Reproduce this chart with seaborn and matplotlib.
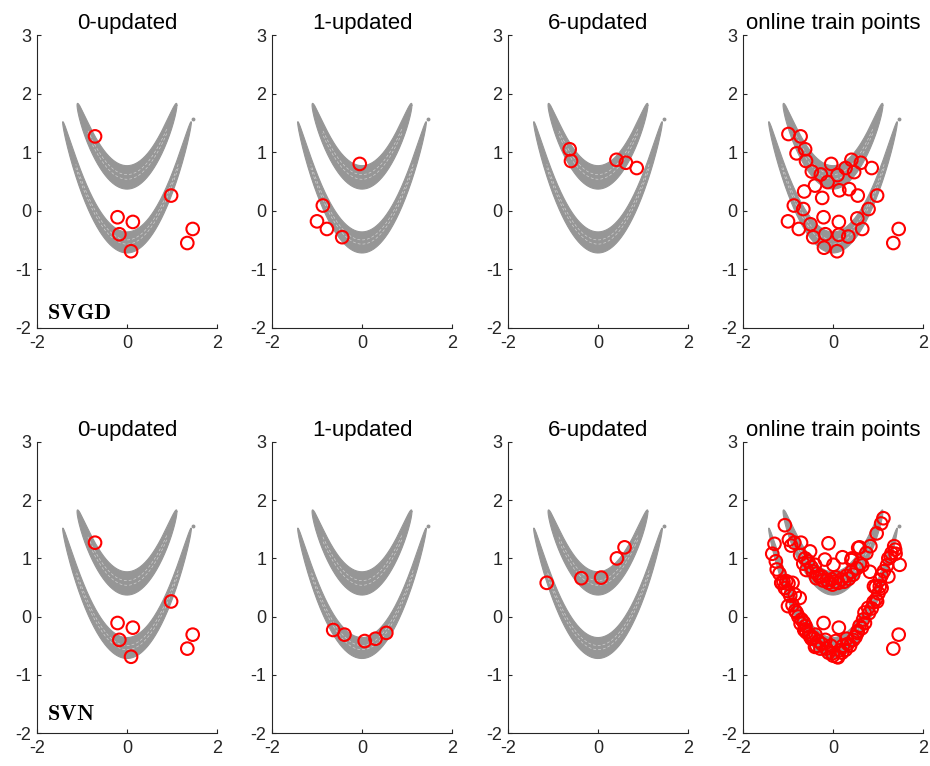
import numpy as np
import pandas as pd
import matplotlib
matplotlib.use("Agg")
import matplotlib.pyplot as plt
import seaborn as sns

# ---------------- data ----------------
titles = ["0-updated", "1-updated", "6-updated", "online train points"]
row_labels = ["SVGD", "SVN"]

# SVGD
svgd0_x = [-0.71, 0.98, -0.21, 0.13, -0.17, 0.09, 1.46, 1.34]
svgd0_y = [1.27, 0.26, -0.11, -0.19, -0.40, -0.69, -0.31, -0.55]
svgd1_x = [-0.05, -0.87, -1.00, -0.78, -0.44]
svgd1_y = [0.80, 0.09, -0.18, -0.31, -0.45]
svgd6_x = [-0.63, -0.60, 0.41, 0.62, 0.86]
svgd6_y = [1.05, 0.85, 0.87, 0.82, 0.73]
svgd_online_x = [-0.99, -0.72, -0.62, -0.81, -0.60, -0.47, -0.27, -0.04, -0.12, 0.10,
                 0.28, 0.41, 0.62, 0.86, 0.47, -0.40, -0.64, -0.24, 0.14, 0.36,
                 0.55, 0.98, -0.87, -0.66, 0.79, -1.00, -0.76, -0.50, -0.21, 0.13,
                 0.54, 0.65, -0.44, -0.17, 0.13, 0.34, -0.20, 0.09, 1.46, 1.34]
svgd_online_y = [1.31, 1.27, 1.05, 0.98, 0.85, 0.67, 0.62, 0.80, 0.49, 0.61,
                 0.73, 0.87, 0.82, 0.73, 0.66, 0.43, 0.33, 0.22, 0.35, 0.37,
                 0.26, 0.26, 0.09, 0.03, 0.03, -0.18, -0.31, -0.23, -0.11, -0.19,
                 -0.13, -0.31, -0.45, -0.40, -0.41, -0.44, -0.63, -0.69, -0.31, -0.55]

# SVN
svn0_x = svgd0_x
svn0_y = svgd0_y
svn1_x = [-0.64, -0.39, 0.06, 0.30, 0.54]
svn1_y = [-0.23, -0.31, -0.42, -0.38, -0.28]
svn6_x = [-1.14, -0.37, 0.07, 0.42, 0.59]
svn6_y = [0.58, 0.66, 0.67, 1.00, 1.19]
svn_online_x = [
    # upper band
    -1.07, -0.98, -0.86, -0.71, -0.93, -0.51, -0.73, -0.66, -0.62, -0.59,
    -0.55, -0.48, -0.45, -0.40, -0.36, -0.30, -0.25, -0.22, -0.14, -0.10,
    -0.03, -0.01, 0.05, 0.12, 0.19, 0.25, 0.30, 0.35, 0.41, 0.45,
    0.53, 0.60, 0.65, 0.74, 0.56, 0.83, 0.97, 1.07, 1.12, 0.82,
    -0.10, -0.18, 0.21, 0.01, 0.41, -0.37, 0.07, 0.42, 0.59,
    # lower band
    -1.30, -1.35, -1.27, -1.25, -1.19, -1.14, -1.15, -1.10, -1.04, -0.99,
    -0.90, -1.07, -1.01, -0.95, -0.85, -0.74, -1.00, -0.90, -0.84, -0.81,
    -0.77, -0.70, -0.72, -0.65, -0.61, -0.62, -0.59, -0.53, -0.51, -0.48,
    -0.44, -0.40, -0.37, -0.33, -0.28, -0.25, -0.17, -0.15, -0.10, -0.05,
    -0.01, 0.00, 0.09, 0.11, 0.15, 0.20, 0.22, 0.28, 0.33, 0.38,
    0.45, 0.50, 0.55, 0.59, 0.64, 0.67, 0.70, 0.71, 0.78, 0.80,
    0.86, 0.90, 0.96, 0.98, 0.91, 1.01, 1.04, 1.08, 0.95, 1.04,
    1.08, 1.13, 1.23, 1.20, 1.28, 1.30, 1.23, 1.38, 1.39, 1.36,
    1.48, -0.21, 0.13, 1.46, 1.34, -0.64, -0.39, 0.06, 0.30, 0.54]
svn_online_y = [
    1.57, 1.32, 1.27, 1.27, 1.22, 1.12, 1.06, 0.91, 1.00, 0.80,
    0.95, 0.85, 0.78, 0.89, 0.74, 0.68, 0.69, 0.62, 0.63, 0.58,
    0.64, 0.55, 0.60, 0.58, 0.64, 0.60, 0.70, 0.65, 0.77, 0.72,
    0.83, 0.91, 0.88, 1.09, 1.18, 1.21, 1.43, 1.60, 1.69, 0.77,
    1.26, 0.98, 1.02, 0.89, 0.97, 0.66, 0.67, 1.00, 1.19,
    1.25, 1.08, 0.95, 0.81, 0.74, 0.58, 0.58, 0.60, 0.61, 0.57,
    0.58, 0.49, 0.44, 0.36, 0.38, 0.32, 0.18, 0.20, 0.10, 0.07,
    0.00, -0.05, -0.12, -0.10, -0.16, -0.22, -0.27, -0.30, -0.34, -0.38,
    -0.36, -0.52, -0.50, -0.42, -0.55, -0.47, -0.40, -0.55, -0.62, -0.50,
    -0.63, -0.67, -0.69, -0.70, -0.58, -0.62, -0.50, -0.57, -0.47, -0.50,
    -0.40, -0.35, -0.25, -0.16, -0.20, -0.05, 0.07, -0.11, 0.15, 0.06,
    0.14, 0.25, 0.30, 0.26, 0.52, 0.40, 0.52, 0.49, 0.51, 0.63,
    0.71, 0.78, 0.69, 0.88, 1.03, 1.09, 1.00, 1.15, 1.08, 1.21,
    0.89, -0.11, -0.19, -0.31, -0.55, -0.23, -0.31, -0.42, -0.38, -0.28]

panels = [
    [(svgd0_x, svgd0_y), (svgd1_x, svgd1_y), (svgd6_x, svgd6_y), (svgd_online_x, svgd_online_y)],
    [(svn0_x, svn0_y), (svn1_x, svn1_y), (svn6_x, svn6_y), (svn_online_x, svn_online_y)],
]

# banana-shaped target bands (y ~ x^2 + offset): mid offset, full thickness, half length
band_mid = [0.57, -0.54]
band_thick = [0.40, 0.36]
band_half_len = [1.11, 1.43]
streak_frac = [-0.08, 0.12]      # white gaps inside the bands (fraction of thickness)
tip_dot = (1.47, 1.56)

# ---------------- style ----------------
sns.set_theme(style="ticks")
plt.rcParams["font.family"] = ["Liberation Sans", "DejaVu Sans"]
plt.rcParams["mathtext.fontset"] = "cm"
plt.rcParams["axes.unicode_minus"] = False

GRAY = "#969696"
AXC = "#262626"

fig = plt.figure(figsize=(9.3, 7.66), dpi=100)
W, H = 930, 766
lefts = [37, 272, 508, 743]
axw = 180
rows = [(35, 328), (442, 733)]
label_y = [-1.85, -1.78]

u = np.linspace(0, np.pi, 300)

def draw_bands(ax):
    for c, th, L in zip(band_mid, band_thick, band_half_len):
        xs = L * np.cos(u)
        half = 0.5 * th * np.sqrt(np.clip(1 - np.abs(xs / L) ** 8, 0, 1))
        top = xs ** 2 + c + half
        bot = xs ** 2 + c - half
        ox = np.concatenate([xs, xs[::-1]])
        oy = np.concatenate([top, bot[::-1]])
        ax.fill(ox, oy, color=GRAY, lw=0, zorder=1)
        ax.plot(ox, oy, color=GRAY, lw=0.8, zorder=1)
        for f in streak_frac:
            m = np.abs(xs) < 0.8 * L
            ax.plot(xs[m], (xs ** 2 + c + f * 2 * half)[m], color="white",
                    lw=0.5, alpha=0.55, dashes=(4, 3), zorder=1.5)
    ax.plot([tip_dot[0]], [tip_dot[1]], marker="o", ms=1.8, color=GRAY,
            lw=0, zorder=1)

for r, (top, bot) in enumerate(rows):
    for ci, left in enumerate(lefts):
        ax = fig.add_axes([left / W, 1 - bot / H, axw / W, (bot - top) / H])
        draw_bands(ax)
        px, py = panels[r][ci]
        df = pd.DataFrame({"x": px, "y": py})
        sns.scatterplot(data=df, x="x", y="y", ax=ax, marker="o", s=82,
                        facecolor="none", edgecolor="red", linewidth=1.5,
                        zorder=3, legend=False)
        ax.set_xlim(-2, 2)
        ax.set_ylim(-2, 3)
        ax.set_xticks([-2, 0, 2])
        ax.set_yticks([-2, -1, 0, 1, 2, 3])
        ax.set_xlabel("")
        ax.set_ylabel("")
        for s in ["top", "right"]:
            ax.spines[s].set_visible(False)
        for s in ["left", "bottom"]:
            ax.spines[s].set_color(AXC)
            ax.spines[s].set_linewidth(0.8)
        ax.tick_params(direction="in", length=3, width=0.8, colors=AXC,
                       labelsize=13, labelcolor=AXC)
        ax.tick_params(axis="y", pad=4)
        ax.tick_params(axis="x", pad=5)
        ax.set_title(titles[ci], fontsize=16, pad=4, color="black")
        if ci == 0:
            ax.text(-1.78, label_y[r], r"$\mathbf{%s}$" % row_labels[r],
                    fontsize=16, ha="left", va="baseline", color="black")

fig.savefig("out.png", dpi=100)
